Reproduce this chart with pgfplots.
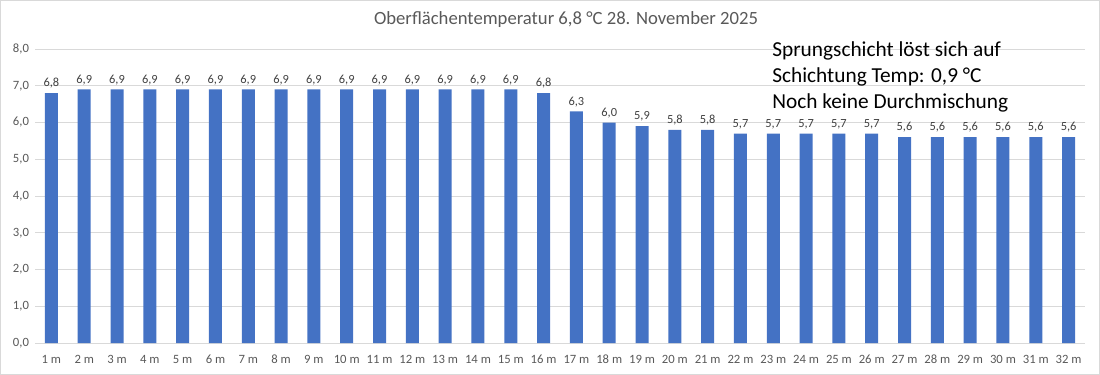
\documentclass[border=0pt]{standalone}
\usepackage{pgfplots}
\pgfplotsset{compat=1.18}
\usepackage{fontspec}
\setmainfont{Carlito}
\definecolor{barblue}{HTML}{4472C4}
\definecolor{gridgray}{HTML}{D9D9D9}
\definecolor{ticktext}{HTML}{595959}
\definecolor{labeltext}{HTML}{404040}
\begin{document}
\begin{tikzpicture}
\useasboundingbox (0,0) rectangle (825pt,281.25pt);
\draw[gridgray, line width=0.75pt] (0.5pt,0.5pt) rectangle (824.5pt,280.75pt);
\begin{axis}[
  at={(26.25pt,24pt)}, anchor=south west,
  scale only axis, width=787.5pt, height=220.5pt,
  xmin=0.5, xmax=32.5, ymin=0, ymax=8,
  xtick={1,...,32},
  xticklabels={1 m,2 m,3 m,4 m,5 m,6 m,7 m,8 m,9 m,10 m,11 m,12 m,13 m,14 m,15 m,16 m,17 m,18 m,19 m,20 m,21 m,22 m,23 m,24 m,25 m,26 m,27 m,28 m,29 m,30 m,31 m,32 m},
  ytick={0,1,...,8},
  ymajorgrids, grid style={gridgray, line width=0.75pt},
  axis line style={draw=none},
  major tick length=0pt,
  tick label style={font=\fontsize{9.5pt}{10pt}\selectfont, text=ticktext},
  xticklabel style={yshift=-4pt, text height=1.6ex, text depth=0.3ex},
  yticklabel style={xshift=-1pt, /pgf/number format/.cd, fixed, fixed zerofill, precision=1, use comma, assume math mode=true},
  ybar, bar width=9.75pt,
  nodes near coords,
  every node near coord/.append style={font=\fontsize{9.3pt}{10pt}\selectfont, text=labeltext, /pgf/number format/.cd, fixed, fixed zerofill, precision=1, use comma, assume math mode=true},
  clip=false,
]
\addplot[fill=barblue, draw=none] coordinates {
(1,6.8) (2,6.9) (3,6.9) (4,6.9) (5,6.9) (6,6.9) (7,6.9) (8,6.9)
(9,6.9) (10,6.9) (11,6.9) (12,6.9) (13,6.9) (14,6.9) (15,6.9) (16,6.8)
(17,6.3) (18,6.0) (19,5.9) (20,5.8) (21,5.8) (22,5.7) (23,5.7) (24,5.7)
(25,5.7) (26,5.7) (27,5.6) (28,5.6) (29,5.6) (30,5.6) (31,5.6) (32,5.6)
};
\end{axis}
\node[font=\fontsize{14pt}{16pt}\selectfont, text=ticktext] at (424.5pt,266.25pt) {Oberflächentemperatur 6,8 °C 28. November 2025};
\node[font=\fontsize{16pt}{19.5pt}\selectfont, anchor=north west, align=left, inner sep=0pt] at (579pt,250pt) {Sprungschicht löst sich auf\\Schichtung Temp: 0,9 °C\\Noch keine Durchmischung};
\end{tikzpicture}
\end{document}
